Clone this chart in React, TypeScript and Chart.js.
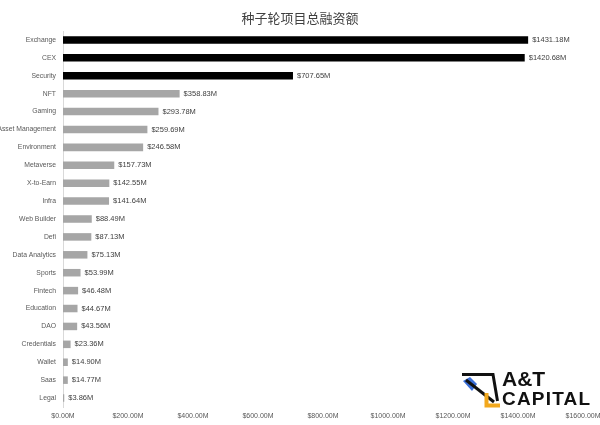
import React, { useEffect, useRef } from "react";
import { Chart, registerables } from "chart.js";

Chart.register(...registerables);

const categories = [
  "Exchange", "CEX", "Security", "NFT", "Gaming", "Asset Management", "Environment",
  "Metaverse", "X-to-Earn", "Infra", "Web Builder", "Defi", "Data Analytics", "Sports",
  "Fintech", "Education", "DAO", "Credentials", "Wallet", "Saas", "Legal",
];
const values = [
  1431.18, 1420.68, 707.65, 358.83, 293.78, 259.69, 246.58, 157.73, 142.55, 141.64,
  88.49, 87.13, 75.13, 53.99, 46.48, 44.67, 43.56, 23.36, 14.9, 14.77, 3.86,
];
const highlightCount = 3;
const title = "种子轮项目总融资额";
const xMin = 0;
const xMax = 1600;
const xStep = 200;

const FONT = "'Liberation Sans', sans-serif";

export default function App() {
  const ref = useRef<HTMLCanvasElement | null>(null);

  useEffect(() => {
    document.body.style.margin = "0";
    const canvas = ref.current;
    if (!canvas) return;

    const labelPlugin = {
      id: "valueLabels",
      afterDatasetsDraw(chart: any) {
        const ctx = chart.ctx;
        const meta = chart.getDatasetMeta(0);
        ctx.save();
        ctx.font = `7.5px ${FONT}`;
        ctx.fillStyle = "#404040";
        ctx.textBaseline = "middle";
        ctx.textAlign = "left";
        meta.data.forEach((bar: any, i: number) => {
          ctx.fillText(`$${values[i].toFixed(2)}M`, bar.x + 4, bar.y);
        });
        ctx.restore();
      },
    };

    const titlePlugin = {
      id: "customTitle",
      afterDraw(chart: any) {
        const ctx = chart.ctx;
        ctx.save();
        ctx.font = `13px 'Noto Sans CJK SC', sans-serif`;
        ctx.fillStyle = "#404040";
        ctx.textAlign = "center";
        ctx.textBaseline = "middle";
        ctx.fillText(title, 300, 18);
        ctx.restore();
      },
    };

    const chart = new Chart(canvas, {
      type: "bar",
      data: {
        labels: categories,
        datasets: [
          {
            data: values,
            backgroundColor: values.map((_, i) => (i < highlightCount ? "#000000" : "#a6a6a6")),
            barPercentage: 0.42,
            categoryPercentage: 1,
          },
        ],
      },
      options: {
        indexAxis: "y",
        animation: false,
        responsive: false,
        maintainAspectRatio: false,
        layout: { padding: { top: 31, right: 17, bottom: 0, left: 0 } },
        plugins: {
          legend: { display: false },
          title: { display: false },
          tooltip: { enabled: false },
        },
        scales: {
          x: {
            min: xMin,
            max: xMax,
            grid: { display: false, drawTicks: false },
            border: { display: false },
            ticks: {
              stepSize: xStep,
              maxRotation: 0,
              autoSkip: false,
              color: "#595959",
              font: { family: FONT, size: 7 },
              padding: 5,
              callback: (v: any) => `$${Number(v).toFixed(2)}M`,
            },
            afterFit: (scale: any) => {
              scale.height = 18;
              scale.paddingRight = 0;
              scale.paddingLeft = 0;
            },
          },
          y: {
            grid: { display: false, drawTicks: false },
            border: { display: true, color: "#d9d9d9", width: 1 },
            ticks: {
              color: "#595959",
              font: { family: FONT, size: 6.8 },
              padding: 7,
              autoSkip: false,
            },
            afterFit: (scale: any) => {
              scale.width = 63;
            },
          },
        },
      },
      plugins: [labelPlugin, titlePlugin],
    } as any);

    return () => chart.destroy();
  }, []);

  return (
    <div style={{ position: "relative", width: 600, height: 425, background: "#fff" }}>
      <canvas ref={ref} width={600} height={425} style={{ display: "block" }} />
      <svg
        width={600}
        height={425}
        style={{ position: "absolute", left: 0, top: 0, pointerEvents: "none" }}
      >
        <path d="M463 381 L470 377 L477 384 L472 391 Z" fill="#3a6fd8" />
        <polyline
          points="462,374.5 493,374.5 497.5,401"
          fill="none"
          stroke="#111"
          strokeWidth={3}
        />
        <line x1={466} y1={380} x2={494} y2={402} stroke="#111" strokeWidth={3} />
        <polyline
          points="486.5,393 486.5,405.5 500,405.5"
          fill="none"
          stroke="#f2a81d"
          strokeWidth={4}
        />
      </svg>
      <div
        style={{
          position: "absolute",
          left: 502,
          top: 369,
          fontFamily: "'Liberation Sans', sans-serif",
          fontWeight: 900,
          color: "#111",
          lineHeight: "20px",
          pointerEvents: "none",
        }}
      >
        <div style={{ fontSize: 21 }}>A&amp;T</div>
        <div style={{ fontSize: 19, letterSpacing: 1.2 }}>CAPITAL</div>
      </div>
    </div>
  );
}
